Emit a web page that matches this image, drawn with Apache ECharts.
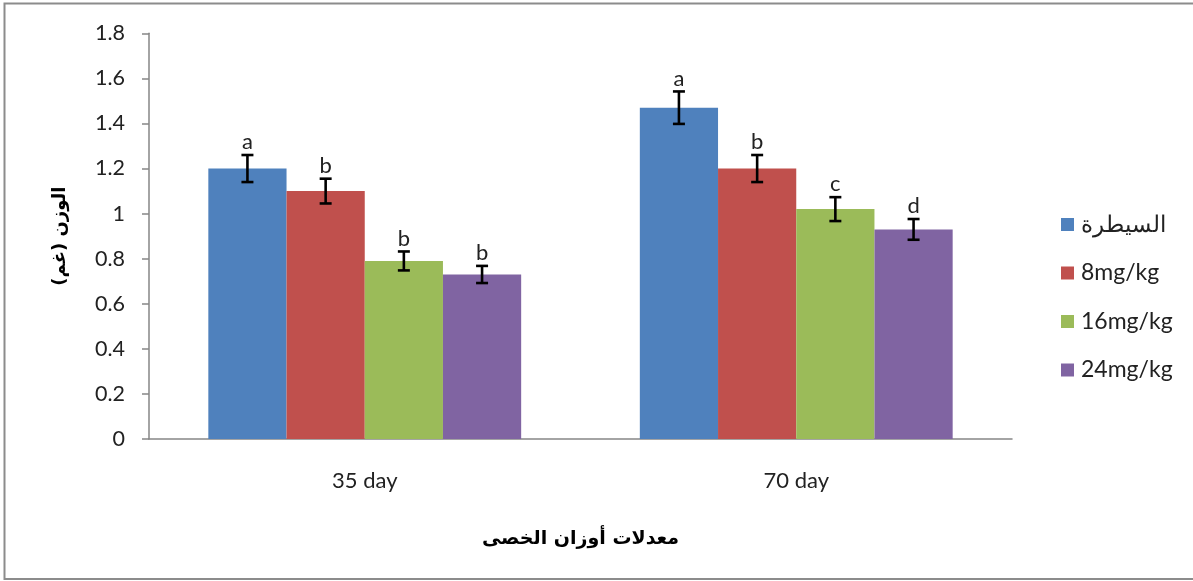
<!DOCTYPE html>
<html>
<head>
<meta charset="utf-8">
<script src="https://cdn.jsdelivr.net/npm/echarts@6/dist/echarts.min.js"></script>
<style>
  html, body { margin: 0; padding: 0; background: #ffffff; }
  #chart { width: 1193px; height: 581px; }
</style>
</head>
<body>
<div id="chart"></div>
<script>
// Testis weight means at two sampling ages, by treatment group
const categories = ['35 day', '70 day'];
const groupNames = ['السيطرة', '8mg/kg', '16mg/kg', '24mg/kg'];

const controlWeights = [1.2, 1.47];
const dose8Weights = [1.1, 1.2];
const dose16Weights = [0.79, 1.02];
const dose24Weights = [0.73, 0.93];

const controlErrors = [0.06, 0.072];
const dose8Errors = [0.055, 0.06];
const dose16Errors = [0.042, 0.053];
const dose24Errors = [0.038, 0.046];

const controlLetters = ['a', 'a'];
const dose8Letters = ['b', 'b'];
const dose16Letters = ['b', 'c'];
const dose24Letters = ['b', 'd'];

const yTicks = { min: 0, max: 1.8, interval: 0.2 };

const weights = [controlWeights, dose8Weights, dose16Weights, dose24Weights];
const errors = [controlErrors, dose8Errors, dose16Errors, dose24Errors];
const letters = [controlLetters, dose8Letters, dose16Letters, dose24Letters];
const colors = ['#4F81BD', '#C0504D', '#9BBB59', '#8064A2'];

const CATEGORY_GAP = 0.275;
const LATIN = 'Lato, "Open Sans", sans-serif';
const ARABIC = '"DejaVu Sans", sans-serif';

const chart = echarts.init(document.getElementById('chart'), null, { renderer: 'canvas' });

const barSeries = weights.map((vals, i) => ({
  name: groupNames[i],
  type: 'bar',
  data: vals,
  barGap: '0%',
  barCategoryGap: (CATEGORY_GAP * 100) + '%',
  itemStyle: { color: colors[i] },
  z: 2
}));

// Error bars plus significance letters, placed over each grouped bar
const errorSeries = weights.map((vals, i) => ({
  name: 'err' + i,
  type: 'custom',
  z: 5,
  clip: false,
  silent: true,
  data: vals.map((v, k) => [k, v, errors[i][k]]),
  renderItem: function (params, api) {
    const idx = api.value(0);
    const val = api.value(1);
    const err = api.value(2);
    const band = api.size([1, 0])[0];
    const barW = band * (1 - CATEGORY_GAP) / weights.length;
    const base = api.coord([idx, val]);
    const x = base[0] + (i - (weights.length - 1) / 2) * barW;
    const hi = api.coord([idx, val + err])[1];
    const lo = api.coord([idx, val - err])[1];
    const cap = 6;
    const st = { stroke: '#000000', lineWidth: 2.6 };
    return {
      type: 'group',
      children: [
        { type: 'line', shape: { x1: x, y1: hi, x2: x, y2: lo }, style: st },
        { type: 'line', shape: { x1: x - cap, y1: hi, x2: x + cap, y2: hi }, style: st },
        { type: 'line', shape: { x1: x - cap, y1: lo, x2: x + cap, y2: lo }, style: st },
        {
          type: 'text',
          style: {
            x: x, y: hi - 2,
            text: letters[i][params.dataIndex],
            align: 'center', verticalAlign: 'bottom',
            fill: '#222222', font: '22px ' + LATIN
          }
        }
      ]
    };
  }
}));

chart.setOption({
  animation: false,
  grid: { left: 149, right: 181, top: 33.3, bottom: 142 },
  legend: {
    orient: 'vertical',
    left: 1056,
    top: 207.5,
    itemWidth: 13,
    itemHeight: 13,
    itemGap: 24.5,
    icon: 'rect',
    data: groupNames,
    textStyle: { fontSize: 23, lineHeight: 24, color: '#222222', fontFamily: LATIN, padding: [0, 0, 0, 2] }
  },
  xAxis: {
    type: 'category',
    data: categories,
    axisLine: { lineStyle: { color: '#868686', width: 1.5 } },
    axisTick: { length: 9, lineStyle: { color: '#868686', width: 1.5 } },
    axisLabel: { margin: 31, fontSize: 22, color: '#222222', fontFamily: LATIN },
    name: 'معدلات أوزان الخصى',
    nameLocation: 'middle',
    nameGap: 91,
    nameTextStyle: { fontSize: 19, fontWeight: 'bold', color: '#000000', fontFamily: ARABIC }
  },
  yAxis: {
    type: 'value',
    min: yTicks.min,
    max: yTicks.max,
    interval: yTicks.interval,
    splitLine: { show: false },
    axisLine: { show: true, lineStyle: { color: '#868686', width: 1.5 } },
    axisTick: { show: true, length: 7, lineStyle: { color: '#868686', width: 1.5 } },
    axisLabel: { margin: 24, fontSize: 21.5, color: '#222222', fontFamily: LATIN },
    name: 'الوزن (غم)',
    nameLocation: 'middle',
    nameRotate: 90,
    nameGap: 80,
    nameTextStyle: { fontSize: 18, fontWeight: 'bold', color: '#000000', fontFamily: ARABIC }
  },
  graphic: [{
    type: 'rect',
    silent: true,
    shape: { x: 4.5, y: 3.5, width: 1200, height: 575.5 },
    style: { fill: 'none', stroke: '#8c8c8c', lineWidth: 2 }
  }],
  series: barSeries.concat(errorSeries)
});
</script>
</body>
</html>
